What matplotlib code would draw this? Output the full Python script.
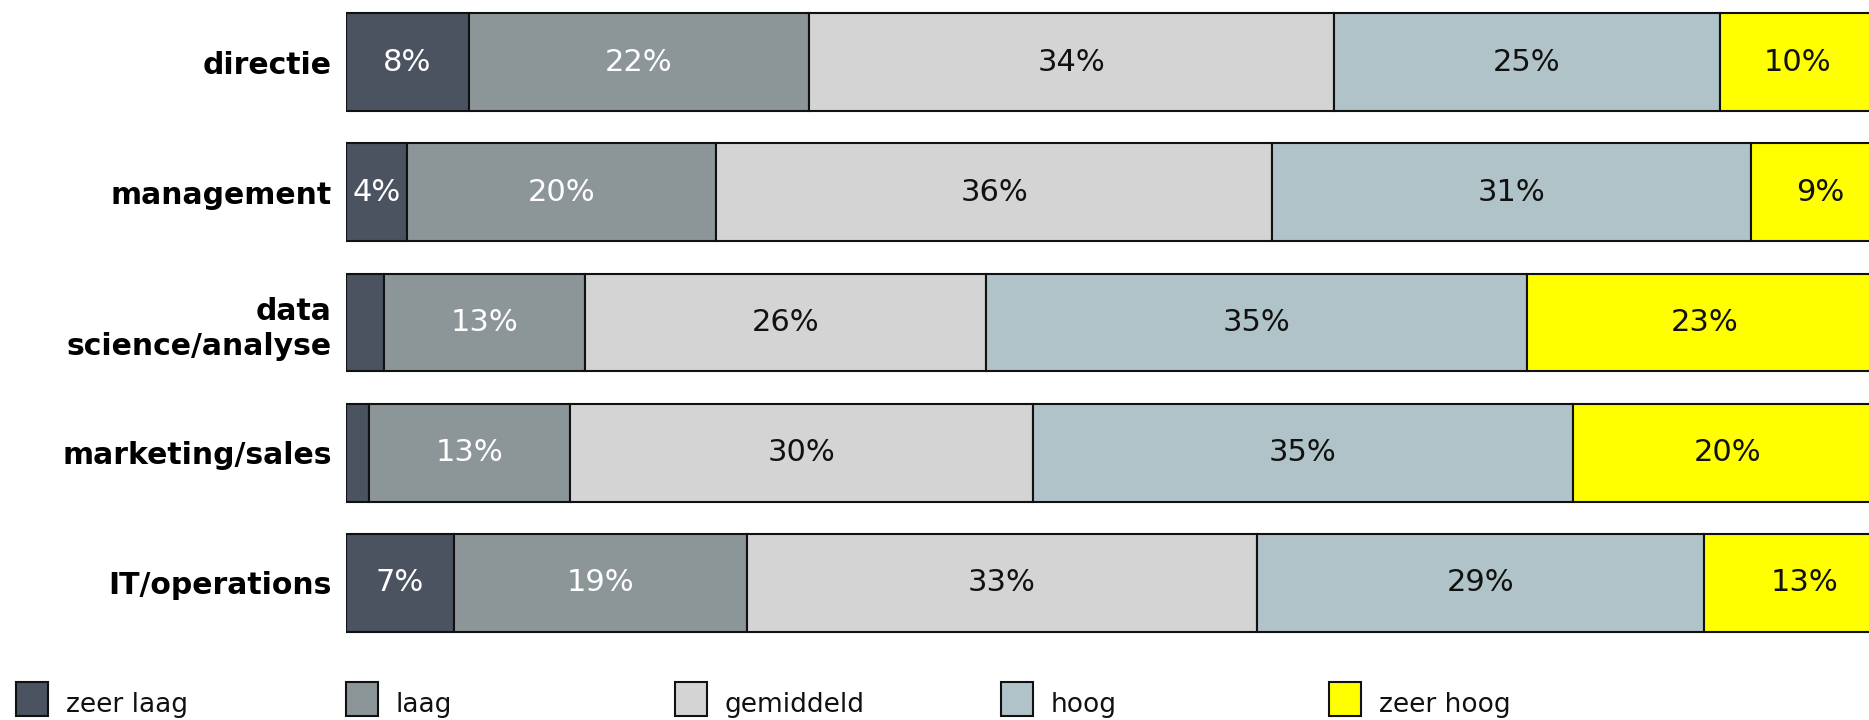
import matplotlib
matplotlib.use("Agg")
import matplotlib.pyplot as plt
from matplotlib.patches import Rectangle
import numpy as np

categories = ["directie", "management", "data\nscience/analyse", "marketing/sales", "IT/operations"]
levels = ["zeer laag", "laag", "gemiddeld", "hoog", "zeer hoog"]
zeer_laag = [8, 4, 2.5, 1.5, 7]
laag = [22, 20, 13, 13, 19]
gemiddeld = [34, 36, 26, 30, 33]
hoog = [25, 31, 35, 35, 29]
zeer_hoog = [10, 9, 23, 20, 13]
series = [zeer_laag, laag, gemiddeld, hoog, zeer_hoog]

colors = ["#4b5260", "#8c9597", "#d4d4d4", "#b0c3c8", "#ffff00"]
text_colors = ["white", "white", "#111111", "#111111", "#111111"]

plt.rcParams['font.family'] = ['DejaVu Sans']

W, H = 1869, 720
fig = plt.figure(figsize=(W / 100, H / 100), dpi=100)
left_px = 345.7
scale = 15.44  # px per percent
ax = fig.add_axes([left_px / W, 72 / H, 100 * scale / W, 651 / H])

y = np.arange(len(categories))
cum = np.zeros(len(categories))
for vals, col, tcol in zip(series, colors, text_colors):
    vals = np.array(vals, dtype=float)
    ax.barh(y, vals, left=cum, height=0.752, color=col, edgecolor="#111111", linewidth=1.5)
    for yi, (c, v) in enumerate(zip(cum, vals)):
        if v >= 4:
            ax.text(c + v / 2, yi, f"{v:.0f}%", ha="center", va="center",
                    fontsize=22, color=tcol)
    cum += vals

ax.set_xlim(0, 100)
ax.set_ylim(4.5, -0.5)
ax.set_yticks(y)
ax.set_yticklabels(categories, fontsize=21.5, fontweight="bold", linespacing=1.3)
ax.tick_params(axis="y", length=0, pad=10)
ax.set_xticks([])
for s in ax.spines.values():
    s.set_visible(False)

# legend
leg_x = [15.6, 345.7, 674.7, 1001, 1329]
for lx, lab, col in zip(leg_x, levels, colors):
    fig.add_artist(Rectangle((lx / W, 4 / H), 32 / W, 34 / H, transform=fig.transFigure,
                             facecolor=col, edgecolor="#111111", linewidth=1.5))
    fig.text((lx + 50) / W, 8 / H, lab, fontsize=19, ha="left", va="baseline", color="#111111")

fig.savefig("out.png", dpi=100)
